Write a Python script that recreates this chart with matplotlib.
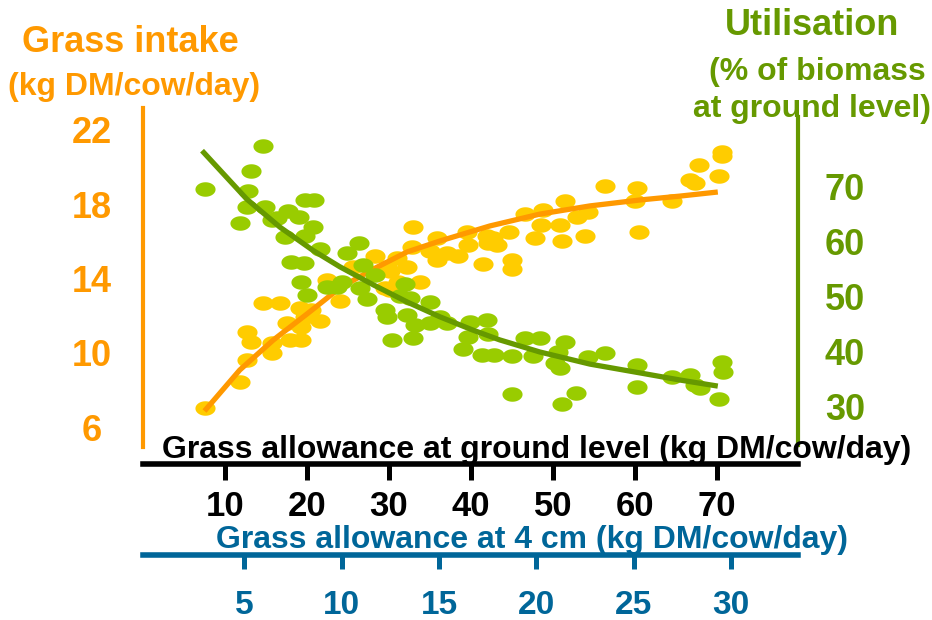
import numpy as np
import matplotlib
matplotlib.use("Agg")
import matplotlib.pyplot as plt
from matplotlib.path import Path

plt.rcParams['font.family'] = ['Liberation Sans', 'DejaVu Sans']
plt.rcParams['font.weight'] = 'bold'

# ---- data -------------------------------------------------------------
# grass allowance at ground level (kg DM/cow/day) vs grass intake (kg DM/cow/day)
intake_x = [7.6, 11.8, 12.7, 12.7, 13.2, 14.6, 16.7, 15.7, 15.7, 17.9, 19.3, 17.6,
            19.3, 21.6, 19.1, 20.5, 19.8, 24.0, 22.4, 25.6, 28.3, 29.8, 31.0, 30.1,
            32.2, 31.1, 29.5, 30.1, 33.8, 32.9, 35.9, 39.5, 42.0, 32.8, 35.0, 37.1,
            39.6, 42.1, 35.9, 38.4, 41.5, 42.7, 43.2, 44.6, 46.6, 48.8, 48.5, 50.9,
            52.9, 54.3, 51.5, 56.3, 47.8, 51.1, 53.9, 45.0, 45.0, 60.2, 60.0, 60.5,
            64.5, 66.7, 67.3, 67.8, 70.2, 70.6, 70.6]
intake_y = [7.0, 8.4, 9.6, 11.1, 10.6, 12.7, 12.7, 10.5, 10.0, 10.7, 10.7, 11.6,
            11.4, 11.7, 12.4, 12.3, 11.9, 12.8, 13.9, 14.6, 15.2, 14.6, 15.1, 14.4,
            14.6, 13.8, 13.5, 13.4, 13.8, 16.8, 16.2, 16.5, 16.3, 15.7, 15.5, 15.4,
            15.8, 15.9, 15.0, 15.2, 14.8, 16.2, 15.8, 16.5, 17.5, 17.7, 16.9, 16.9,
            17.3, 17.6, 18.2, 19.0, 16.2, 16.0, 16.3, 15.0, 14.5, 18.9, 18.2, 16.5,
            18.2, 19.3, 19.15, 20.1, 19.5, 20.8, 20.6]

# grass allowance at ground level vs utilisation (% of biomass at ground level)
util_x = [14.6, 13.2, 7.6, 12.8, 19.8, 20.9, 12.7, 14.9, 11.8, 15.7, 17.7, 19.0,
          16.3, 20.7, 19.8, 17.3, 21.6, 18.0, 19.6, 19.3, 20.0, 22.4, 23.7, 24.9,
          26.3, 26.8, 28.3, 24.3, 26.5, 27.3, 32.0, 31.3, 32.6, 35.0, 29.5, 29.8,
          32.2, 36.2, 33.2, 35.0, 37.1, 39.9, 42.0, 30.4, 32.9, 39.6, 42.1, 39.0,
          41.3, 42.8, 45.0, 46.6, 48.4, 47.6, 51.5, 50.6, 50.2, 50.9, 54.3, 56.3,
          60.2, 60.2, 45.0, 52.8, 51.1, 64.5, 66.7, 67.3, 67.9, 70.6, 70.7, 70.2]
util_y = [77.5, 72.9, 69.6, 69.3, 67.6, 67.6, 66.4, 66.4, 63.5, 64.0, 65.6, 64.5,
          64.4, 62.7, 61.1, 60.9, 58.7, 56.4, 56.2, 52.7, 50.4, 51.8, 51.8, 58.0,
          59.8, 55.8, 54.0, 52.7, 51.6, 49.6, 52.4, 50.2, 49.8, 49.1, 47.6, 46.4,
          46.7, 46.4, 44.9, 45.3, 45.3, 45.5, 45.8, 42.2, 42.5, 42.7, 43.3, 40.5,
          39.5, 39.5, 39.3, 42.5, 42.5, 39.3, 41.8, 40.0, 38.0, 37.1, 39.1, 39.8,
          37.6, 33.6, 32.4, 32.5, 30.5, 35.5, 35.8, 34.0, 33.5, 38.2, 36.4, 31.5]

# fitted trend lines
intake_fit_x = [7.5, 11.8, 15.9, 20.0, 24.0, 28.1, 32.2, 36.2, 42.3, 48.4, 54.5, 60.6, 65.5, 70.1]
intake_fit_y = [6.86, 9.07, 10.69, 12.09, 13.49, 14.51, 15.43, 16.02, 16.83, 17.47, 17.91, 18.23, 18.44, 18.66]
util_fit_x = [7.2, 12.65, 16.7, 20.7, 24.0, 28.1, 32.2, 36.2, 40.2, 43.5, 48.4, 54.5, 60.6, 65.5, 70.1]
util_fit_y = [76.6, 67.8, 62.7, 58.5, 55.5, 52.2, 49.1, 46.4, 44.0, 42.2, 40.0, 37.8, 36.2, 34.9, 33.8]

intake_ticks = [6, 10, 14, 18, 22]
util_ticks = [30, 40, 50, 60, 70]
ground_ticks = [10, 20, 30, 40, 50, 60, 70]
cm4_ticks = [5, 10, 15, 20, 25, 30]

# ---- styling ----------------------------------------------------------
ORANGE = '#FF9900'
YELLOW = '#FFCC00'
LIGHT_GREEN = '#99CC00'
DARK_GREEN = '#669900'
TEAL = '#006699'

W, H = 932, 620
fig = plt.figure(figsize=(W / 100, H / 100), dpi=100)


def fx(px):
    return px / W


def fy(py):
    return 1 - py / H


# ellipse-shaped marker (wider than tall)
t = np.linspace(0, 2 * np.pi, 60)
ellipse = Path(np.column_stack([np.cos(t), 0.72 * np.sin(t)]), closed=False)
DOT = 14.5 ** 2

left, right, top, bottom = 143, 798, 108, 464
ax = fig.add_axes([fx(left), fy(bottom), (right - left) / W, (bottom - top) / H])
ax.set_xlim(0, 79.88)
ax.set_ylim(4.007, 23.185)
ax.patch.set_visible(False)

ax2 = ax.twinx()
ax2.set_ylim(19.636, 84.36)

ax.scatter(intake_x, intake_y, s=DOT, marker=ellipse, color=YELLOW,
           linewidths=0, zorder=2)
ax.plot(intake_fit_x, intake_fit_y, color=ORANGE, lw=3.8, zorder=3,
        solid_capstyle='butt', solid_joinstyle='round')

ax2.scatter(util_x, util_y, s=DOT, marker=ellipse, color=LIGHT_GREEN,
            linewidths=0, zorder=2)
ax2.plot(util_fit_x, util_fit_y, color=DARK_GREEN, lw=3.8, zorder=3,
         solid_capstyle='butt', solid_joinstyle='round')

# spines
for s in ['top', 'right']:
    ax.spines[s].set_visible(False)
for s in ['top', 'left', 'bottom']:
    ax2.spines[s].set_visible(False)
ax.spines['left'].set_color(ORANGE)
ax.spines['left'].set_linewidth(3)
ax.spines['left'].set_bounds(4.92, 23.185)
ax.spines['bottom'].set_color('black')
ax.spines['bottom'].set_linewidth(4)
ax2.spines['right'].set_color(DARK_GREEN)
ax2.spines['right'].set_linewidth(3)
ax2.spines['right'].set_bounds(23.09, 82.73)

# left axis: grass intake
ax.set_yticks(intake_ticks)
ax.set_yticklabels([str(v) for v in intake_ticks])
ax.tick_params(axis='y', length=0, pad=36.7, labelsize=26, labelcolor=ORANGE)
for lab in ax.get_yticklabels():
    lab.set_horizontalalignment('center')
    lab.set_fontweight('bold')

# right axis: utilisation
ax2.set_yticks(util_ticks)
ax2.set_yticklabels([str(v) for v in util_ticks])
ax2.tick_params(axis='y', length=0, pad=33.8, labelsize=26, labelcolor=DARK_GREEN)
for lab in ax2.get_yticklabels():
    lab.set_horizontalalignment('center')
    lab.set_fontweight('bold')

# bottom axis: allowance at ground level
ax.set_xticks(ground_ticks)
ax.set_xticklabels([str(v) for v in ground_ticks])
ax.tick_params(axis='x', direction='out', length=11.5, width=3.6, color='black',
               pad=7.5, labelsize=25, labelcolor='black')
for lab in ax.get_xticklabels():
    lab.set_fontweight('bold')

# second scale: allowance at 4 cm
axb = fig.add_axes([fx(left), fy(555), (right - left) / W, 0.001])
axb.set_xlim(-0.205, 33.44)
axb.patch.set_visible(False)
for s in ['top', 'left', 'right']:
    axb.spines[s].set_visible(False)
axb.spines['bottom'].set_color(TEAL)
axb.spines['bottom'].set_linewidth(4)
axb.set_yticks([])
axb.set_xticks(cm4_ticks)
axb.set_xticklabels([str(v) for v in cm4_ticks])
axb.tick_params(axis='x', direction='out', length=10, width=3.6, color=TEAL,
                pad=15, labelsize=24, labelcolor=TEAL)
for lab in axb.get_xticklabels():
    lab.set_fontweight('bold')

# titles
fig.text(fx(130), fy(51.7), 'Grass intake', ha='center', va='baseline',
         fontsize=26, fontweight='bold', color=ORANGE)
fig.text(fx(134), fy(95), '(kg DM/cow/day)', ha='center', va='baseline',
         fontsize=23, fontweight='bold', color=ORANGE)
fig.text(fx(812), fy(35), 'Utilisation', ha='center', va='baseline',
         fontsize=26, fontweight='bold', color=DARK_GREEN)
fig.text(fx(817), fy(80), '(% of biomass', ha='center', va='baseline',
         fontsize=23, fontweight='bold', color=DARK_GREEN)
fig.text(fx(812), fy(117), 'at ground level)', ha='center', va='baseline',
         fontsize=23, fontweight='bold', color=DARK_GREEN)
fig.text(fx(537), fy(458), 'Grass allowance at ground level (kg DM/cow/day)',
         ha='center', va='baseline', fontsize=23, fontweight='bold', color='black')
fig.text(fx(532), fy(548), 'Grass allowance at 4 cm (kg DM/cow/day)',
         ha='center', va='baseline', fontsize=23, fontweight='bold', color=TEAL)

fig.savefig('out.png', dpi=100)
